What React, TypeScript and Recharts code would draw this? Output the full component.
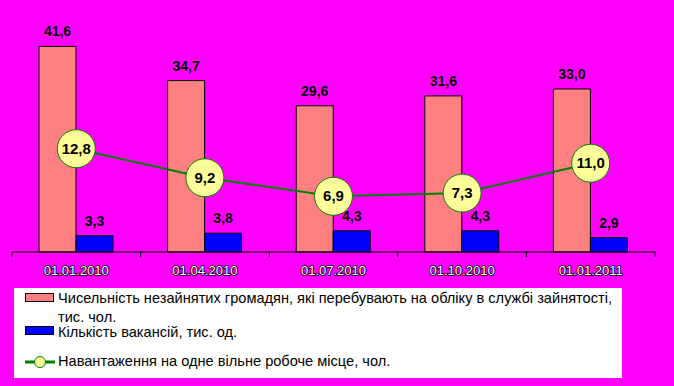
import React from 'react';
import { ComposedChart, Bar, Line, XAxis, YAxis, LabelList } from 'recharts';

const dates = ['01.01.2010', '01.04.2010', '01.07.2010', '01.10.2010', '01.01.2011'];
const unemployed = [41.6, 34.7, 29.6, 31.6, 33.0];
const vacancies = [3.3, 3.8, 4.3, 4.3, 2.9];
const loadPerVacancy = [12.8, 9.2, 6.9, 7.3, 11.0];

const data = dates.map((date, i) => ({
  date,
  unemployed: unemployed[i],
  vacancies: vacancies[i],
  load: loadPerVacancy[i]
}));

const CHART_W = 674;
const CHART_H = 280;
const MARGIN = { top: 5, right: 19, left: 12, bottom: 0 };
const BAND = (CHART_W - MARGIN.left - MARGIN.right) / dates.length;
const FONT = '"Liberation Sans", Arial, sans-serif';

const fmt = (v: any) => Number(v).toFixed(1).replace('.', ',');

// Excel-style ticks between categories, label under the band center
const DateTick = (props: any) => {
  const { x, y, payload, index } = props;
  const h = BAND / 2;
  return (
    <g>
      <line x1={x - h} x2={x - h} y1={y} y2={y + 5} stroke="#000" />
      {index === dates.length - 1 && (
        <line x1={x + h} x2={x + h} y1={y} y2={y + 5} stroke="#000" />
      )}
      <text
        x={x}
        y={y + 23}
        textAnchor="middle"
        fontFamily={FONT}
        fontSize={13}
        fill="#fff"
        stroke="#000"
        strokeWidth={1.5}
        paintOrder="stroke"
      >
        {payload.value}
      </text>
    </g>
  );
};

const LoadDot = (props: any) => {
  const { cx, cy, payload } = props;
  if (cx == null || cy == null) return null;
  return (
    <g>
      <circle cx={cx} cy={cy} r={19} fill="#FFFF99" stroke="#008000" strokeWidth={1} />
      <text
        x={cx}
        y={cy + 5}
        textAnchor="middle"
        fontFamily={FONT}
        fontWeight="bold"
        fontSize={15}
        fill="#000"
      >
        {fmt(payload.load)}
      </text>
    </g>
  );
};

const legendText: React.CSSProperties = {
  position: 'absolute',
  left: 44,
  fontFamily: FONT,
  fontSize: 14.6,
  lineHeight: '19px',
  color: '#000',
  whiteSpace: 'nowrap'
};

const Swatch = ({ color, top }: { color: string; top: number }) => (
  <div
    style={{
      position: 'absolute',
      left: 11,
      top,
      width: 27,
      height: 7,
      background: color,
      border: '1px solid #000'
    }}
  />
);

const valueLabel = { fontFamily: FONT, fontWeight: 'bold', fontSize: 14, fill: '#000' };

export default function App() {
  return (
    <div
      style={{
        position: 'fixed',
        left: 0,
        top: 0,
        width: CHART_W,
        height: 386,
        background: '#FF00FF',
        overflow: 'hidden'
      }}
    >
      <ComposedChart
        width={CHART_W}
        height={CHART_H}
        data={data}
        margin={MARGIN}
        barCategoryGap={27}
        barGap={0}
      >
        <XAxis
          dataKey="date"
          height={28}
          axisLine={{ stroke: '#000' }}
          tickLine={false}
          tickSize={0}
          tickMargin={0}
          interval={0}
          tick={<DateTick />}
        />
        <YAxis yAxisId="left" hide domain={[0, 50]} />
        <YAxis yAxisId="right" hide domain={[0, 30.6]} orientation="right" />
        <Bar
          yAxisId="left"
          dataKey="unemployed"
          fill="#FF8080"
          stroke="#000"
          strokeWidth={1}
          isAnimationActive={false}
        >
          <LabelList dataKey="unemployed" position="top" offset={10} formatter={fmt} style={valueLabel} />
        </Bar>
        <Bar
          yAxisId="left"
          dataKey="vacancies"
          fill="#0000FF"
          stroke="#000"
          strokeWidth={1}
          isAnimationActive={false}
        >
          <LabelList dataKey="vacancies" position="top" offset={10} formatter={fmt} style={valueLabel} />
        </Bar>
        <Line
          yAxisId="right"
          dataKey="load"
          stroke="#008000"
          strokeWidth={2}
          dot={<LoadDot />}
          activeDot={false}
          isAnimationActive={false}
        />
      </ComposedChart>

      <div
        style={{
          position: 'absolute',
          left: 14,
          top: 288,
          width: 608,
          height: 90,
          background: '#fff'
        }}
      >
        <Swatch color="#FF8080" top={5} />
        <div style={{ ...legendText, top: 1 }}>
          Чисельність незайнятих громадян, які перебувають на обліку в службі зайнятості,
          <br />
          тис. чол.
        </div>
        <Swatch color="#0000FF" top={38} />
        <div style={{ ...legendText, top: 35 }}>Кількість вакансій, тис. од.</div>
        <svg
          style={{ position: 'absolute', left: 11, top: 67 }}
          width={30}
          height={14}
        >
          <line x1={0} x2={30} y1={7} y2={7} stroke="#008000" strokeWidth={3} />
          <circle cx={15} cy={7} r={5.5} fill="#FFFF99" stroke="#008000" strokeWidth={1} />
        </svg>
        <div style={{ ...legendText, top: 64 }}>Навантаження на одне вільне робоче місце, чол.</div>
      </div>
    </div>
  );
}
